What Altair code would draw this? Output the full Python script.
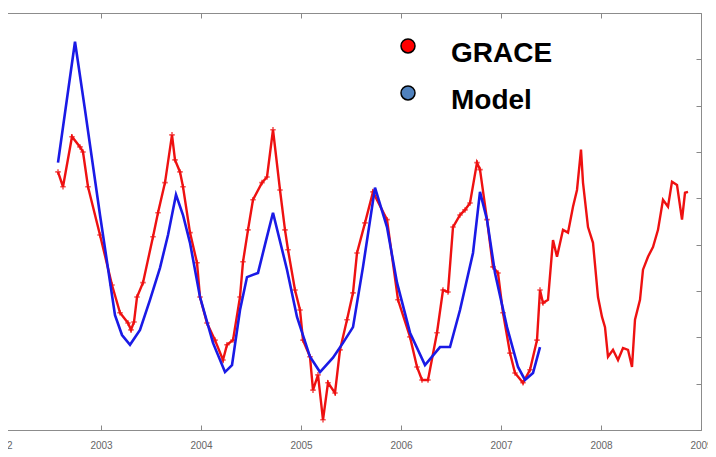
import altair as alt
import pandas as pd

# ---- data ----
grace_year = [2002.57, 2002.62, 2002.71, 2002.79, 2002.82, 2002.87, 2002.99, 2003.11, 2003.19, 2003.27,
              2003.30, 2003.33, 2003.36, 2003.42, 2003.52, 2003.57, 2003.64, 2003.71, 2003.74, 2003.79,
              2003.82, 2003.89, 2003.96, 2003.99, 2004.06, 2004.14, 2004.22, 2004.26, 2004.32, 2004.39,
              2004.42, 2004.47, 2004.52, 2004.61, 2004.66, 2004.72, 2004.79, 2004.84, 2004.87, 2004.94,
              2004.99, 2005.02, 2005.09, 2005.12, 2005.17, 2005.22, 2005.27, 2005.34, 2005.39, 2005.46,
              2005.52, 2005.56, 2005.64, 2005.72, 2005.86, 2005.97, 2006.09, 2006.16, 2006.21, 2006.27,
              2006.36, 2006.42, 2006.47, 2006.52, 2006.59, 2006.64, 2006.69, 2006.76, 2006.79, 2006.86,
              2006.92, 2006.97, 2007.02, 2007.09, 2007.14, 2007.22, 2007.29, 2007.36, 2007.39, 2007.42,
              2007.47, 2007.52, 2007.56, 2007.62, 2007.67, 2007.72, 2007.76, 2007.80, 2007.82, 2007.87,
              2007.92, 2007.97, 2008.01, 2008.04, 2008.07, 2008.12, 2008.17, 2008.22, 2008.27, 2008.31,
              2008.34, 2008.39, 2008.42, 2008.47, 2008.52, 2008.57, 2008.62, 2008.67, 2008.71, 2008.76,
              2008.81, 2008.84, 2008.87]
grace_val = [15.7, 12.5, 23.3, 21.1, 20.0, 12.5, 2.1, -8.7, -14.7, -16.9,
             -18.4, -16.7, -11.3, -8.2, 1.7, 6.9, 13.4, 23.7, 18.3, 15.7,
             12.5, 2.6, -3.9, -11.3, -16.9, -20.6, -24.9, -21.6, -20.6, -11.3,
             -3.7, 3.2, 9.7, 13.4, 14.6, 24.8, 11.8, 3.2, -1.1, -9.8,
             -14.1, -20.6, -24.2, -31.4, -28.1, -37.8, -29.8, -32.0, -22.7, -16.2,
             -10.4, -1.8, 4.7, 11.4, 5.4, -11.9, -19.9, -26.4, -29.2, -29.2,
             -19.0, -9.8, -10.2, 3.8, 6.4, 7.5, 9.0, 17.7, 16.2, 5.4,
             -4.8, -6.1, -14.7, -23.4, -27.7, -29.8, -27.0, -20.6, -9.8, -12.6,
             -11.9, 1.0, -2.6, 3.2, 2.6, 8.2, 11.8, 20.5, 13.4, 3.8,
             0.4, -11.3, -15.6, -17.8, -24.2, -22.7, -24.9, -22.3, -22.7, -26.4,
             -16.2, -11.9, -5.4, -2.6, -0.5, 3.2, 9.7, 8.2, 13.6, 12.9,
             5.4, 11.2, 11.4]

model_year = [2002.57, 2002.74, 2002.84, 2002.99, 2003.14, 2003.21, 2003.29, 2003.39, 2003.49, 2003.59,
              2003.67, 2003.75, 2003.82, 2003.89, 2003.99, 2004.12, 2004.24, 2004.31, 2004.39, 2004.46,
              2004.57, 2004.64, 2004.72, 2004.86, 2004.96, 2005.09, 2005.19, 2005.32, 2005.42, 2005.52,
              2005.62, 2005.74, 2005.86, 2005.96, 2006.09, 2006.24, 2006.39, 2006.49, 2006.59, 2006.72,
              2006.79, 2006.86, 2006.94, 2007.06, 2007.17, 2007.24, 2007.32, 2007.39]
model_val = [17.7, 43.8, 29.1, 6.4, -15.2, -19.5, -21.6, -18.4, -11.9, -5.0,
             2.1, 10.8, 6.4, 0.4, -11.3, -21.2, -27.5, -26.0, -14.1, -7.0,
             -6.1, 0.0, 6.9, -5.4, -15.6, -24.2, -27.5, -24.4, -21.2, -17.8,
             -4.8, 12.3, 3.8, -8.2, -19.0, -26.0, -22.1, -22.1, -14.1, -1.8,
             11.4, 5.4, -6.1, -17.8, -26.4, -29.2, -27.7, -22.1]

series_names = ["GRACE", "Model"]
legend_colors = ["#ff0000", "#4f81bd"]
x_ticks = [2002, 2003, 2004, 2005, 2006, 2007, 2008, 2009]
y_ticks = [-40, -30, -20, -10, 0, 10, 20, 30, 40, 50]

grace = pd.DataFrame({"year": grace_year, "val": grace_val})
model = pd.DataFrame({"year": model_year, "val": model_val})
grace_marked = grace[grace["year"] < 2007.45]
legend_df = pd.DataFrame({"series": series_names, "year": [2005.0, 2005.0], "val": [0.0, 0.0]})

xscale = alt.Scale(domain=[2002, 2009], nice=False, zero=False)
yscale = alt.Scale(domain=[-40, 50], nice=False, zero=False)

tick_style = dict(domain=False, grid=False, tickSize=5, offset=-5, tickColor="#888",
                  tickWidth=1)

x_bottom = alt.Axis(values=x_ticks, format="d", title=None, orient="bottom",
                    labelFontSize=10, labelColor="#666", labelPadding=10,
                    labelFlush=False, labelOverlap=False, labelFont="Liberation Sans",
                    **tick_style)
x_top = alt.Axis(values=x_ticks, title=None, orient="top", labels=False, **tick_style)
y_left = alt.Axis(values=y_ticks, title=None, orient="left", labels=False, **tick_style)
y_right = alt.Axis(values=y_ticks, title=None, orient="right", labels=False, **tick_style)

grace_line = alt.Chart(grace).mark_line(color="#ee1111", strokeWidth=2.4).encode(
    x=alt.X("year:Q", scale=xscale, axis=x_bottom),
    y=alt.Y("val:Q", scale=yscale, axis=y_left),
)

grace_pts = alt.Chart(grace_marked).mark_point(
    shape="M-1,0L1,0M0,-1L0,1", filled=False, color="#ee1111", size=30, strokeWidth=1.6
).encode(
    x=alt.X("year:Q", scale=xscale, axis=None),
    y=alt.Y("val:Q", scale=yscale, axis=None),
)

model_line = alt.Chart(model).mark_line(color="#1a1ae6", strokeWidth=2.6).encode(
    x=alt.X("year:Q", scale=xscale, axis=x_top),
    y=alt.Y("val:Q", scale=yscale, axis=y_right),
)

legend_pts = alt.Chart(legend_df).mark_point(filled=True, opacity=0).encode(
    x=alt.X("year:Q", scale=xscale, axis=None),
    y=alt.Y("val:Q", scale=yscale, axis=None),
    fill=alt.Fill(
        "series:N",
        scale=alt.Scale(domain=series_names, range=legend_colors),
        legend=alt.Legend(
            title=None, orient="none", legendX=393, legendY=27, padding=0,
            symbolType="M-1,-1.15A1,1 0 1,1 1,-1.15A1,1 0 1,1 -1,-1.15Z",
            symbolSize=196, symbolOpacity=1, symbolStrokeColor="black",
            symbolStrokeWidth=1.5, labelFont="Liberation Sans", labelFontSize=28,
            labelFontWeight="bold", labelColor="black", labelOffset=29,
            rowPadding=14, labelLimit=400,
        ),
    ),
)

chart = (
    alt.layer(grace_line, grace_pts, model_line, legend_pts)
    .resolve_axis(x="independent", y="independent")
    .properties(
        width=700, height=417,
        autosize=alt.AutoSizeParams(type="none"),
        padding={"left": -7, "top": 5, "right": 7, "bottom": 27},
        background="white",
    )
    .configure_view(stroke="#8c8c8c", strokeWidth=1)
)

chart.save("out.html", embed_options={"renderer": "svg", "actions": False})
